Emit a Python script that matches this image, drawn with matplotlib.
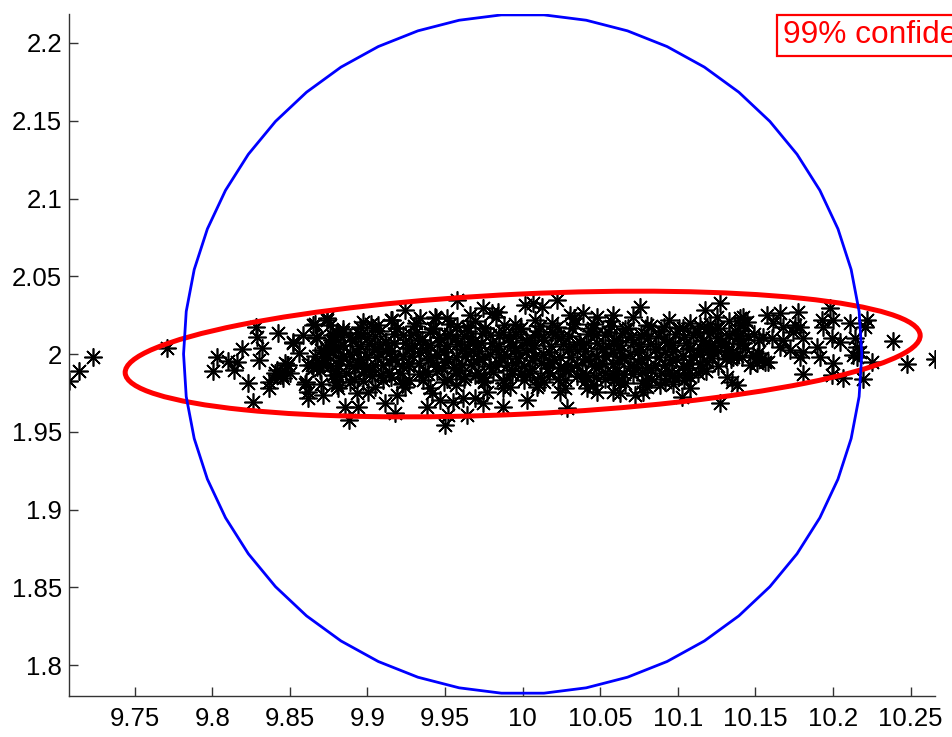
import numpy as np
import matplotlib
matplotlib.use("Agg")
import matplotlib.pyplot as plt
from matplotlib.patches import Ellipse, RegularPolygon

plt.rcParams['font.family'] = ['Liberation Sans', 'DejaVu Sans']

# sparse samples
sparse_x = [
    9.7077, 9.7141, 9.7229, 9.7706, 9.8003, 9.8028, 9.8103, 9.8157, 9.8140, 9.8193,
    9.8232, 9.8260, 9.8282, 9.8286, 9.8318, 9.8301, 9.8367, 9.8367, 9.8425, 9.8415,
    9.8447, 9.8479, 9.8522, 9.8582, 9.8561, 9.8604, 9.8619, 9.8651, 9.8668, 9.8715,
    9.8737, 9.8747, 9.8802, 9.8855, 9.8883,
    9.8404, 9.8436, 9.8468, 9.8490, 9.8501, 9.8458, 9.8419, 9.8522, 9.8597, 9.8619,
    9.8641, 9.8662, 9.8673, 9.8699, 9.8726, 9.8737, 9.8780, 9.8802, 9.8797, 9.8619,
    9.8651, 9.8673, 9.8694, 9.8715, 9.8758, 9.8769, 9.8758, 9.8812, 9.8780, 9.8802,
    9.8812,
    9.9575, 9.9242, 9.9156, 9.8973, 9.9338, 9.9435, 9.9510, 9.9660, 9.9037, 9.8844,
    9.8941, 9.9113, 9.9177, 9.9381, 9.9499, 9.9521, 9.9639, 9.9414, 9.9467, 9.9553,
    9.9617, 9.9188, 9.9242, 9.9005, 9.8930, 9.8802, 9.8887,
    9.9746, 9.9843, 9.9800, 10.0015, 10.0068, 10.0122, 10.0219, 10.0584, 10.0305, 10.0390,
    10.0477, 9.9693, 9.9746, 9.9875, 10.0026, 10.0283, 9.9768, 9.9875, 10.0090, 10.0240,
    10.0412, 10.0477, 10.0584,
    10.0756, 10.1271, 10.1175, 10.1421, 10.1443, 10.0627, 10.0724, 10.0777, 10.0767, 10.1024,
    10.1078, 10.1271, 10.1314, 10.1347, 10.1379, 10.0885, 10.0960, 10.1057, 10.1153, 10.1464,
    10.1508, 10.0584, 10.1400, 10.1421, 10.1186, 10.1250, 10.1207, 10.1228, 10.1164, 10.1314,
    10.1357, 10.1411, 10.1379, 10.1421,
    10.1572, 10.1658, 10.1776, 10.1980, 10.1926, 10.2001, 10.1937, 10.2109, 10.2216, 10.2205,
    10.1615, 10.1679, 10.1754, 10.1787, 10.1743, 10.1550, 10.1604, 10.1679, 10.1808, 10.1991,
    10.2044, 10.2141, 10.2152, 10.1894, 10.1916, 10.1808, 10.1787, 10.1722, 10.1658, 10.2388,
    10.2130, 10.2152, 10.2173, 10.2001, 10.1991, 10.2066, 10.2249, 10.2195, 10.1808, 10.2474,
    10.2656, 10.1486, 10.1518, 10.1540, 10.1561, 10.1582, 10.1508,
]
sparse_y = [
    1.9826, 1.9893, 1.9979, 2.0037, 1.9891, 1.9979, 1.9955, 1.9951, 1.9897, 2.0030,
    1.9812, 1.9693, 2.0176, 2.0111, 2.0037, 1.9961, 1.9822, 1.9779, 2.0137, 1.9865,
    1.9865, 1.9929, 2.0079, 2.0122, 2.0004, 1.9822, 1.9758, 2.0186, 2.0111, 1.9736,
    2.0219, 2.0026, 2.0133, 1.9661, 1.9576,
    1.9876, 1.9865, 1.9940, 1.9929, 1.9876, 1.9844, 1.9897, 2.0069, 1.9805, 1.9719,
    1.9929, 2.0191, 2.0101, 1.9805, 2.0015, 2.0230, 2.0058, 1.9865, 2.0133, 1.9929,
    1.9908, 1.9918, 1.9897, 1.9929, 2.0186, 2.0122, 2.0015, 1.9929, 1.9865, 1.9822,
    1.9779,
    2.0347, 2.0283, 2.0219, 2.0208, 2.0230, 2.0240, 2.0230, 2.0251, 2.0165, 2.0143,
    1.9661, 1.9683, 1.9619, 1.9661, 1.9543, 1.9608, 1.9608, 1.9747, 1.9704, 1.9693,
    1.9715, 1.9736, 1.9790, 1.9758, 1.9747, 1.9801, 1.9822,
    2.0294, 2.0272, 2.0262, 2.0315, 2.0326, 2.0304, 2.0347, 2.0251, 2.0251, 2.0262,
    2.0240, 1.9715, 1.9683, 1.9661, 1.9704, 1.9651, 1.9758, 1.9779, 1.9790, 1.9758,
    1.9779, 1.9758, 1.9758,
    2.0304, 2.0326, 2.0283, 2.0240, 2.0208, 1.9747, 1.9736, 1.9758, 1.9812, 1.9725,
    1.9779, 1.9683, 1.9854, 1.9822, 1.9801, 1.9801, 1.9865, 1.9865, 1.9908, 1.9929,
    1.9983, 1.9876, 2.0230, 2.0186, 2.0176, 2.0240, 2.0058, 2.0015, 2.0026, 2.0026,
    1.9983, 1.9983, 2.0101, 2.0069,
    2.0251, 2.0262, 2.0272, 2.0294, 2.0219, 2.0219, 2.0176, 2.0197, 2.0219, 2.0176,
    2.0197, 2.0176, 2.0186, 2.0176, 2.0143, 2.0111, 2.0101, 2.0090, 2.0101, 2.0105,
    2.0075, 2.0101, 2.0047, 2.0047, 1.9983, 2.0015, 1.9983, 2.0026, 2.0047, 2.0084,
    1.9994, 1.9983, 2.0015, 1.9940, 1.9865, 1.9844, 1.9947, 1.9839, 1.9869, 1.9934,
    1.9968, 1.9994, 2.0005, 1.9972, 1.9950, 1.9950, 1.9940,
]

# dense core of the cloud (estimated, it is a solid black mass)
core_x = [
    9.902, 9.915, 9.931, 9.944, 9.958, 9.969, 9.983, 9.995, 10.008, 10.019,
    10.033, 10.046, 10.057, 10.071, 10.083, 10.094, 10.108, 10.121, 10.133,
    9.884, 9.896, 9.908, 9.919, 9.931, 9.942, 9.953, 9.965, 9.976, 9.987,
    9.998, 10.010, 10.021, 10.032, 10.044, 10.055, 10.066, 10.078, 10.089, 10.101,
    10.112, 10.124, 10.137, 10.149,
    9.877, 9.889, 9.900, 9.911, 9.923, 9.934, 9.946, 9.957, 9.968, 9.979,
    9.991, 10.002, 10.013, 10.025, 10.036, 10.047, 10.059, 10.070, 10.081, 10.093,
    10.104, 10.116, 10.127, 10.139, 10.152,
    9.873, 9.884, 9.895, 9.906, 9.917, 9.929, 9.940, 9.951, 9.962, 9.973,
    9.985, 9.996, 10.007, 10.018, 10.030, 10.041, 10.052, 10.063, 10.075, 10.086,
    10.097, 10.108, 10.120, 10.131, 10.143,
    9.866, 9.878, 9.889, 9.900, 9.912, 9.923, 9.934, 9.945, 9.957, 9.968,
    9.979, 9.990, 10.002, 10.013, 10.024, 10.035, 10.047, 10.058, 10.069, 10.080,
    10.092, 10.103, 10.114, 10.126, 10.138,
    9.871, 9.882, 9.894, 9.905, 9.916, 9.927, 9.939, 9.950, 9.961, 9.972,
    9.984, 9.995, 10.006, 10.017, 10.029, 10.040, 10.051, 10.062, 10.074, 10.085,
    10.096, 10.107, 10.119, 10.131,
    9.880, 9.892, 9.903, 9.914, 9.926, 9.937, 9.948, 9.959, 9.971, 9.982,
    9.993, 10.004, 10.016, 10.027, 10.038, 10.049, 10.061, 10.072, 10.083, 10.094,
    10.106, 10.118,
    9.891, 9.903, 9.915, 9.927, 9.939, 9.951, 9.963, 9.975, 9.987, 9.999,
    10.011, 10.023, 10.035, 10.047, 10.059, 10.071, 10.083, 10.096, 10.108,
    9.905, 9.922, 9.940, 9.957, 9.975, 9.992, 10.010, 10.027, 10.045, 10.062,
    10.080, 10.097,
]
core_y = [
    2.019, 2.022, 2.020, 2.023, 2.018, 2.021, 2.024, 2.019, 2.022, 2.020,
    2.023, 2.019, 2.021, 2.024, 2.018, 2.022, 2.020, 2.019, 2.021,
    2.016, 2.013, 2.015, 2.017, 2.014, 2.016, 2.013, 2.015, 2.017, 2.014,
    2.016, 2.015, 2.013, 2.017, 2.015, 2.014, 2.016, 2.013, 2.015, 2.017,
    2.014, 2.016, 2.015, 2.013,
    2.009, 2.011, 2.010, 2.008, 2.012, 2.009, 2.011, 2.010, 2.008, 2.012,
    2.010, 2.009, 2.011, 2.010, 2.008, 2.012, 2.009, 2.011, 2.010, 2.008,
    2.011, 2.009, 2.010, 2.012, 2.009,
    2.004, 2.006, 2.005, 2.003, 2.007, 2.004, 2.006, 2.005, 2.003, 2.007,
    2.005, 2.004, 2.006, 2.005, 2.003, 2.007, 2.004, 2.006, 2.005, 2.003,
    2.006, 2.004, 2.005, 2.007, 2.004,
    1.999, 2.001, 2.000, 1.998, 2.002, 1.999, 2.001, 2.000, 1.998, 2.002,
    2.000, 1.999, 2.001, 2.000, 1.998, 2.002, 1.999, 2.001, 2.000, 1.998,
    2.001, 1.999, 2.000, 2.002, 1.999,
    1.994, 1.996, 1.995, 1.993, 1.997, 1.994, 1.996, 1.995, 1.993, 1.997,
    1.995, 1.994, 1.996, 1.995, 1.993, 1.997, 1.994, 1.996, 1.995, 1.993,
    1.996, 1.994, 1.995, 1.997,
    1.989, 1.991, 1.990, 1.988, 1.992, 1.989, 1.991, 1.990, 1.988, 1.992,
    1.990, 1.989, 1.991, 1.990, 1.988, 1.992, 1.989, 1.991, 1.990, 1.988,
    1.991, 1.989,
    1.984, 1.986, 1.985, 1.983, 1.987, 1.984, 1.986, 1.985, 1.983, 1.987,
    1.985, 1.984, 1.986, 1.985, 1.983, 1.987, 1.984, 1.986, 1.985,
    1.979, 1.981, 1.978, 1.980, 1.982, 1.979, 1.981, 1.978, 1.980, 1.982,
    1.979, 1.981,
]

# more core samples in between the rows above
core2_x = [
    9.895, 9.907, 9.919, 9.930, 9.942, 9.953, 9.964, 9.976, 9.988, 9.999,
    10.011, 10.022, 10.034, 10.045, 10.057, 10.068, 10.080, 10.091, 10.103, 10.114,
    10.126, 10.140,
    9.882, 9.894, 9.905, 9.917, 9.928, 9.940, 9.951, 9.962, 9.974, 9.985,
    9.996, 10.008, 10.019, 10.030, 10.042, 10.053, 10.064, 10.076, 10.087, 10.098,
    10.110, 10.121, 10.133, 10.145,
    9.878, 9.890, 9.901, 9.912, 9.924, 9.935, 9.946, 9.958, 9.969, 9.980,
    9.992, 10.003, 10.014, 10.026, 10.037, 10.048, 10.060, 10.071, 10.082, 10.094,
    10.105, 10.116, 10.128, 10.140,
    9.870, 9.881, 9.893, 9.904, 9.915, 9.927, 9.938, 9.949, 9.961, 9.972,
    9.983, 9.995, 10.006, 10.017, 10.029, 10.040, 10.051, 10.063, 10.074, 10.085,
    10.097, 10.108, 10.120, 10.132,
    9.872, 9.884, 9.895, 9.906, 9.918, 9.929, 9.940, 9.952, 9.963, 9.974,
    9.986, 9.997, 10.008, 10.020, 10.031, 10.042, 10.054, 10.065, 10.076, 10.088,
    10.099, 10.110, 10.122, 10.134,
    9.876, 9.888, 9.899, 9.910, 9.922, 9.933, 9.944, 9.956, 9.967, 9.978,
    9.990, 10.001, 10.012, 10.024, 10.035, 10.046, 10.058, 10.069, 10.080, 10.092,
    10.103, 10.114, 10.126,
    9.886, 9.898, 9.909, 9.921, 9.933, 9.945, 9.957, 9.969, 9.981, 9.993,
    10.005, 10.017, 10.029, 10.041, 10.053, 10.065, 10.077, 10.089, 10.101, 10.113,
    9.897, 9.910, 9.923, 9.936, 9.949, 9.962, 9.975, 9.988, 10.001, 10.014,
    10.027, 10.040, 10.053, 10.066, 10.079, 10.092, 10.104,
]
core2_y = [
    2.0175, 2.0185, 2.0165, 2.0180, 2.0170, 2.0190, 2.0175, 2.0165, 2.0185, 2.0170,
    2.0180, 2.0175, 2.0190, 2.0165, 2.0180, 2.0170, 2.0185, 2.0175, 2.0165, 2.0180,
    2.0170, 2.0185,
    2.0125, 2.0135, 2.0115, 2.0130, 2.0120, 2.0140, 2.0125, 2.0115, 2.0135, 2.0120,
    2.0130, 2.0125, 2.0140, 2.0115, 2.0130, 2.0120, 2.0135, 2.0125, 2.0115, 2.0130,
    2.0120, 2.0135, 2.0125, 2.0115,
    2.0075, 2.0085, 2.0065, 2.0080, 2.0070, 2.0090, 2.0075, 2.0065, 2.0085, 2.0070,
    2.0080, 2.0075, 2.0090, 2.0065, 2.0080, 2.0070, 2.0085, 2.0075, 2.0065, 2.0080,
    2.0070, 2.0085, 2.0075, 2.0065,
    2.0025, 2.0035, 2.0015, 2.0030, 2.0020, 2.0040, 2.0025, 2.0015, 2.0035, 2.0020,
    2.0030, 2.0025, 2.0040, 2.0015, 2.0030, 2.0020, 2.0035, 2.0025, 2.0015, 2.0030,
    2.0020, 2.0035, 2.0025, 2.0015,
    1.9975, 1.9985, 1.9965, 1.9980, 1.9970, 1.9990, 1.9975, 1.9965, 1.9985, 1.9970,
    1.9980, 1.9975, 1.9990, 1.9965, 1.9980, 1.9970, 1.9985, 1.9975, 1.9965, 1.9980,
    1.9970, 1.9985, 1.9975, 1.9965,
    1.9925, 1.9935, 1.9915, 1.9930, 1.9920, 1.9940, 1.9925, 1.9915, 1.9935, 1.9920,
    1.9930, 1.9925, 1.9940, 1.9915, 1.9930, 1.9920, 1.9935, 1.9925, 1.9915, 1.9930,
    1.9920, 1.9935, 1.9925,
    1.9875, 1.9885, 1.9865, 1.9880, 1.9870, 1.9890, 1.9875, 1.9865, 1.9885, 1.9870,
    1.9880, 1.9875, 1.9890, 1.9865, 1.9880, 1.9870, 1.9885, 1.9875, 1.9865, 1.9880,
    1.9825, 1.9835, 1.9815, 1.9830, 1.9820, 1.9840, 1.9825, 1.9815, 1.9835, 1.9820,
    1.9830, 1.9825, 1.9840, 1.9815, 1.9830, 1.9820, 1.9835,
]

# blue circle and red confidence ellipse
circle_center = (10.0, 2.0)
circle_radius = 0.2185
circle_sides = 50
ell_center = (10.0, 2.0)
ell_width = 0.5128
ell_height = 0.0772
ell_angle = 2.71

xticks = [9.75, 9.8, 9.85, 9.9, 9.95, 10.0, 10.05, 10.1, 10.15, 10.2, 10.25]
xtick_labels = ['9.75', '9.8', '9.85', '9.9', '9.95', '10', '10.05', '10.1', '10.15', '10.2', '10.25']
yticks = [1.8, 1.85, 1.9, 1.95, 2.0, 2.05, 2.1, 2.15, 2.2]
ytick_labels = ['1.8', '1.85', '1.9', '1.95', '2', '2.05', '2.1', '2.15', '2.2']
legend_text = '99% confidence ellipse'

fig = plt.figure(figsize=(9.52, 7.37), dpi=100)
ax = fig.add_axes([0.0725, 0.0556, 0.9097, 0.9249])

all_x = sparse_x + core_x + core2_x
all_y = sparse_y + core_y + core2_y
ax.plot(all_x, all_y, linestyle='none', marker=(8, 2, 0),
        ms=13, mec='black', mew=1.2, zorder=1)

ax.add_patch(Ellipse(ell_center, ell_width, ell_height, angle=ell_angle,
                     fill=False, edgecolor='red', lw=3.6, zorder=2))
ax.add_patch(RegularPolygon(circle_center, circle_sides, radius=circle_radius,
                            orientation=np.pi / circle_sides, fill=False,
                            edgecolor='blue', lw=2.0, zorder=3))

ax.set_xlim(9.7077, 10.2657)
ax.set_ylim(1.7801, 2.2184)
ax.set_xticks(xticks)
ax.set_xticklabels(xtick_labels)
ax.set_yticks(yticks)
ax.set_yticklabels(ytick_labels)

for s in ['top', 'right']:
    ax.spines[s].set_visible(False)
for s in ['left', 'bottom']:
    ax.spines[s].set_color('#333333')
    ax.spines[s].set_linewidth(1.0)
ax.tick_params(direction='in', length=6.5, width=1.0, color='#333333',
               labelsize=18.5, labelcolor='black')
ax.tick_params(axis='x', pad=8)
ax.tick_params(axis='y', pad=5)

# the label box runs past the right edge of the picture, as in the original
fig.text(0.822, 0.9412, legend_text, color='red', fontsize=22.8, va='baseline',
         ha='left', bbox=dict(boxstyle='square,pad=0.17', facecolor='white',
                              edgecolor='red', lw=1.6))

fig.savefig('out.png', dpi=100)
